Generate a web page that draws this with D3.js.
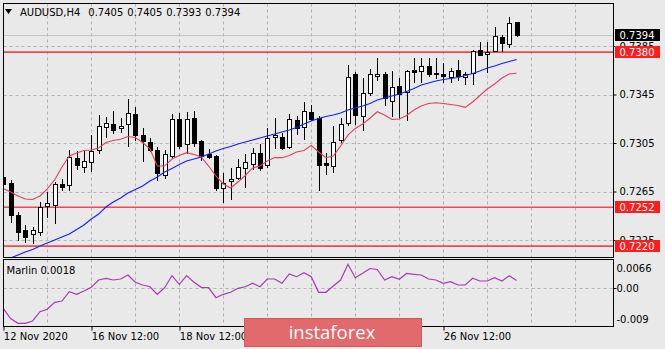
<!DOCTYPE html>
<html>
<head>
<meta charset="utf-8">
<script src="https://cdn.jsdelivr.net/npm/d3@7/dist/d3.min.js"></script>
<style>
  html, body { margin: 0; padding: 0; background: #e9e9e9; }
  svg { display: block; font-family: "DejaVu Sans", Verdana, sans-serif; }
</style>
</head>
<body>
<svg id="chart" width="665" height="349"></svg>
<script>
// ---- AUDUSD H4 quotes -------------------------------------------------
const symbolTitle = "AUDUSD,H4";
const lastBarText = ["0.7405", "0.7405", "0.7393", "0.7394"];

const opens = [
  0.72770, 0.72720, 0.72456, 0.72333, 0.72300, 0.72318, 0.72530, 0.72539, 0.72712, 0.72704,
  0.72929, 0.72850, 0.72896, 0.72992, 0.73184, 0.73204, 0.73176, 0.73204, 0.73289, 0.73116,
  0.73058, 0.72996, 0.72786, 0.72943, 0.73252, 0.73042, 0.73254, 0.73066, 0.72959, 0.72943,
  0.72676, 0.72739, 0.72764, 0.72841, 0.72877, 0.72965, 0.72869, 0.73097, 0.73099, 0.73017,
  0.73236, 0.73180, 0.73306, 0.73260, 0.72883, 0.72860, 0.73075, 0.73212, 0.73622, 0.73273,
  0.73460, 0.73603, 0.73623, 0.73395, 0.73516, 0.73467, 0.73648, 0.73640, 0.73685, 0.73629,
  0.73617, 0.73597, 0.73652, 0.73597, 0.73625, 0.73817, 0.73782, 0.73809, 0.73927, 0.73867,
  0.74050
];
const highs = [
  0.72827, 0.72745, 0.72483, 0.72374, 0.72360, 0.72566, 0.72648, 0.72731, 0.72751, 0.72992,
  0.72984, 0.72984, 0.73116, 0.73281, 0.73267, 0.73314, 0.73254, 0.73410, 0.73349, 0.73171,
  0.73095, 0.73021, 0.72992, 0.73293, 0.73295, 0.73303, 0.73316, 0.73075, 0.72998, 0.72951,
  0.72800, 0.72841, 0.72916, 0.72959, 0.73006, 0.73042, 0.73171, 0.73254, 0.73130, 0.73289,
  0.73273, 0.73391, 0.73363, 0.73273, 0.72965, 0.73190, 0.73260, 0.73693, 0.73638, 0.73584,
  0.73658, 0.73749, 0.73638, 0.73644, 0.73584, 0.73652, 0.73749, 0.73749, 0.73749, 0.73749,
  0.73707, 0.73666, 0.73735, 0.73638, 0.73817, 0.73881, 0.73885, 0.74009, 0.73941, 0.74092,
  0.74050
];
const lows = [
  0.72695, 0.72399, 0.72250, 0.72234, 0.72223, 0.72291, 0.72442, 0.72393, 0.72662, 0.72662,
  0.72833, 0.72813, 0.72819, 0.72965, 0.73102, 0.73135, 0.73141, 0.73025, 0.73075, 0.72902,
  0.72987, 0.72745, 0.72761, 0.72932, 0.73011, 0.72970, 0.73025, 0.72910, 0.72924, 0.72662,
  0.72561, 0.72586, 0.72751, 0.72690, 0.72833, 0.72827, 0.72852, 0.73009, 0.73001, 0.73006,
  0.73124, 0.73080, 0.73240, 0.72662, 0.72794, 0.72811, 0.73061, 0.73198, 0.73207, 0.73157,
  0.73446, 0.73567, 0.73363, 0.73269, 0.73256, 0.73240, 0.73556, 0.73556, 0.73603, 0.73584,
  0.73556, 0.73556, 0.73570, 0.73537, 0.73537, 0.73772, 0.73638, 0.73805, 0.73809, 0.73844,
  0.73930
];
const closes = [
  0.72712, 0.72456, 0.72318, 0.72277, 0.72333, 0.72525, 0.72553, 0.72709, 0.72690, 0.72937,
  0.72869, 0.72904, 0.72987, 0.73190, 0.73212, 0.73157, 0.73190, 0.73300, 0.73120, 0.73066,
  0.72992, 0.72803, 0.72959, 0.73245, 0.73025, 0.73245, 0.73052, 0.72943, 0.72932, 0.72676,
  0.72718, 0.72753, 0.72850, 0.72896, 0.72970, 0.72841, 0.73089, 0.73116, 0.73006, 0.73245,
  0.73175, 0.73311, 0.73245, 0.72869, 0.72869, 0.73061, 0.73207, 0.73598, 0.73281, 0.73460,
  0.73619, 0.73619, 0.73419, 0.73512, 0.73454, 0.73646, 0.73636, 0.73688, 0.73617, 0.73617,
  0.73603, 0.73644, 0.73605, 0.73617, 0.73811, 0.73776, 0.73803, 0.73932, 0.73877, 0.74040,
  0.73940
];

// slow moving average (blue)
const slowMA = [
  0.72069, 0.72102, 0.72126, 0.72151, 0.72172, 0.72201, 0.72225, 0.72250, 0.72275, 0.72300,
  0.72337, 0.72374, 0.72423, 0.72464, 0.72522, 0.72563, 0.72596, 0.72638, 0.72667, 0.72695,
  0.72737, 0.72770, 0.72811, 0.72840, 0.72873, 0.72902, 0.72918, 0.72935, 0.72959, 0.72984,
  0.73005, 0.73021, 0.73042, 0.73058, 0.73075, 0.73091, 0.73108, 0.73124, 0.73141, 0.73157,
  0.73178, 0.73207, 0.73231, 0.73252, 0.73269, 0.73281, 0.73297, 0.73322, 0.73339, 0.73355,
  0.73376, 0.73405, 0.73421, 0.73438, 0.73454, 0.73475, 0.73499, 0.73528, 0.73545, 0.73561,
  0.73574, 0.73582, 0.73590, 0.73607, 0.73623, 0.73644, 0.73669, 0.73685, 0.73706, 0.73722,
  0.73739
];
// fast moving average (crimson)
const fastMA = [
  0.72675, 0.72646, 0.72613, 0.72588, 0.72584, 0.72613, 0.72671, 0.72745, 0.72852, 0.72943,
  0.72968, 0.72988, 0.72992, 0.73009, 0.73054, 0.73071, 0.73081, 0.73104, 0.73095, 0.73054,
  0.73001, 0.72860, 0.72860, 0.72918, 0.72947, 0.72970, 0.72955, 0.72935, 0.72860, 0.72778,
  0.72712, 0.72679, 0.72728, 0.72782, 0.72844, 0.72860, 0.72902, 0.72930, 0.72929, 0.72947,
  0.72976, 0.72988, 0.73029, 0.72976, 0.72929, 0.72943, 0.73025, 0.73116, 0.73170, 0.73207,
  0.73254, 0.73308, 0.73281, 0.73244, 0.73248, 0.73277, 0.73322, 0.73355, 0.73376, 0.73382,
  0.73376, 0.73367, 0.73359, 0.73344, 0.73388, 0.73442, 0.73495, 0.73537, 0.73586, 0.73619,
  0.73625
];
// Marlin oscillator (sub-window)
const marlin = [
  -0.00469, -0.00702, -0.00814, -0.00814, -0.00760, -0.00544, -0.00488, -0.00325, -0.00295, -0.00078,
  -0.00139, -0.00062, 0.00024, 0.00194, 0.00234, 0.00194, 0.00218, 0.00311, 0.00141, 0.00078,
  0.00038, -0.00139, 0.00015, 0.00295, 0.00094, 0.00295, 0.00141, 0.00024, 0.00015, -0.00218,
  -0.00139, -0.00092, 0.00000, 0.00038, 0.00118, 0.00038, 0.00218, 0.00218, 0.00118, 0.00334,
  0.00271, 0.00364, 0.00271, -0.00092, -0.00092, 0.00055, 0.00194, 0.00560, 0.00248, 0.00350,
  0.00462, 0.00439, 0.00194, 0.00271, 0.00211, 0.00346, 0.00327, 0.00311, 0.00218, 0.00194,
  0.00118, 0.00155, 0.00078, 0.00078, 0.00234, 0.00171, 0.00171, 0.00248, 0.00171, 0.00295,
  0.00180
];
const marlinNow = "0.0018";

// axis ticks and levels
const priceTicks = [0.7225, 0.7265, 0.7305, 0.7345, 0.7385];
const levelLines = [0.7380, 0.7252, 0.7220];
const bidPrice = 0.7394;
const marlinTicks = [0.0066, 0.00, -0.009];
const marlinTickText = ["0.0066", "0.00", "-0.009"];
const timeTickBars = [0, 12, 24, 60];
const timeTickText = ["12 Nov 2020", "16 Nov 12:00", "18 Nov 12:00", "26 Nov 12:00"];
const gridBars = d3.range(6, 84, 6);

// ---- layout ------------------------------------------------------------
const W = 665, H = 349;
const L = 3.5, R = 613.5;
const mainTop = 3.5, mainBottom = 257.5;
const subTop = 259.5, subBottom = 326.5;
const bg = "#e9e9e9";

const svg = d3.select("#chart");
svg.append("rect").attr("width", W).attr("height", H).attr("fill", bg);

const nBars = opens.length;
const x = d3.scaleLinear().domain([0, nBars - 1]).range([3.3, 516.6]);
const y = d3.scaleLinear().domain([0.7225, 0.7385]).range([240, 46]);
const ySub = d3.scaleLinear().domain([-0.009, 0.0066]).range([327, 260]);
const px = v => Math.round(v) + 0.5;

const defs = svg.append("defs");
defs.append("clipPath").attr("id", "clipMain")
  .append("rect").attr("x", L + 0.5).attr("y", mainTop + 0.5)
  .attr("width", R - L - 1).attr("height", mainBottom - mainTop - 1);
defs.append("clipPath").attr("id", "clipSub")
  .append("rect").attr("x", L + 0.5).attr("y", subTop + 0.5)
  .attr("width", R - L - 1).attr("height", subBottom - subTop - 1);

const gridColor = "#b3b3b3";

// ---- main window -------------------------------------------------------
const main = svg.append("g").attr("clip-path", "url(#clipMain)");

// vertical grid
main.selectAll("line.vgrid").data(gridBars).join("line")
  .attr("x1", d => px(x(d))).attr("x2", d => px(x(d)))
  .attr("y1", mainTop).attr("y2", mainBottom)
  .attr("stroke", gridColor).attr("stroke-dasharray", "3,3");
// horizontal grid
main.selectAll("line.hgrid").data(priceTicks).join("line")
  .attr("x1", L).attr("x2", R)
  .attr("y1", d => px(y(d))).attr("y2", d => px(y(d)))
  .attr("stroke", gridColor).attr("stroke-dasharray", "3,3");

// bid line
main.append("line")
  .attr("x1", L).attr("x2", R)
  .attr("y1", px(y(bidPrice))).attr("y2", px(y(bidPrice)))
  .attr("stroke", "#c4c4c4");

// horizontal levels
main.selectAll("line.level").data(levelLines).join("line")
  .attr("x1", L).attr("x2", R)
  .attr("y1", d => y(d)).attr("y2", d => y(d))
  .attr("stroke", "#ef4a50").attr("stroke-width", 1.7);

// candles
const bars = d3.range(nBars);
const cg = main.append("g");
cg.selectAll("line.wick").data(bars).join("line")
  .attr("x1", i => Math.round(x(i)) + 0.5).attr("x2", i => Math.round(x(i)) + 0.5)
  .attr("y1", i => Math.round(y(highs[i]))).attr("y2", i => Math.round(y(lows[i])) + 1)
  .attr("stroke", "#000");
cg.selectAll("rect.body").data(bars).join("rect")
  .attr("x", i => Math.round(x(i)) - 1.5)
  .attr("width", 4)
  .attr("y", i => Math.round(y(Math.max(opens[i], closes[i]))) + 0.5)
  .attr("height", i => Math.max(1, Math.round(y(Math.min(opens[i], closes[i]))) - Math.round(y(Math.max(opens[i], closes[i])))))
  .attr("fill", i => closes[i] >= opens[i] ? "#ffffff" : "#000000")
  .attr("stroke", "#000");

// moving averages
const maLine = arr => d3.line().x((d, i) => x(i)).y(d => y(d))(arr);
main.append("path").attr("d", maLine(fastMA))
  .attr("fill", "none").attr("stroke", "#e0405e").attr("stroke-width", 1.1);
main.append("path").attr("d", maLine(slowMA))
  .attr("fill", "none").attr("stroke", "#1a1aff").attr("stroke-width", 1.1);

// header
svg.append("path").attr("d", "M5,9 L12,9 L8.5,14 Z").attr("fill", "#000");
const head = svg.append("text").attr("y", 16).attr("font-size", 10).attr("fill", "#000");
head.append("tspan").attr("x", 20).text(symbolTitle);
lastBarText.forEach((t, k) => head.append("tspan").attr("x", 88.3 + k * 39).text(t));

// ---- sub window (Marlin) -----------------------------------------------
const sub = svg.append("g").attr("clip-path", "url(#clipSub)");
sub.selectAll("line.vgrid").data(gridBars).join("line")
  .attr("x1", d => px(x(d))).attr("x2", d => px(x(d)))
  .attr("y1", subTop).attr("y2", subBottom)
  .attr("stroke", gridColor).attr("stroke-dasharray", "3,3");
sub.append("line")
  .attr("x1", L).attr("x2", R)
  .attr("y1", px(ySub(0))).attr("y2", px(ySub(0)))
  .attr("stroke", gridColor).attr("stroke-dasharray", "3,3");
sub.append("path")
  .attr("d", d3.line().x((d, i) => x(i)).y(d => ySub(d))(marlin))
  .attr("fill", "none").attr("stroke", "#a53db3").attr("stroke-width", 1.2);

svg.append("text").attr("x", 6.5).attr("y", 273.5).attr("font-size", 10).attr("fill", "#000")
  .text("Marlin " + marlinNow);

// ---- frames ------------------------------------------------------------
svg.append("rect").attr("x", L).attr("y", mainTop).attr("width", R - L).attr("height", mainBottom - mainTop)
  .attr("fill", "none").attr("stroke", "#000");
svg.append("rect").attr("x", L).attr("y", subTop).attr("width", R - L).attr("height", subBottom - subTop)
  .attr("fill", "none").attr("stroke", "#000");

// ---- price axis --------------------------------------------------------
const yAxis = svg.append("g").attr("transform", `translate(${R},0)`)
  .call(d3.axisRight(y).tickValues(priceTicks).tickFormat(d3.format(".4f")).tickSize(3).tickPadding(3));
yAxis.select(".domain").remove();
yAxis.selectAll("text").attr("font-size", 10).attr("fill", "#000").attr("font-family", "DejaVu Sans");
yAxis.selectAll("line").attr("stroke", "#000");

// price markers
function marker(val, fill) {
  const cy = y(val);
  svg.append("rect").attr("x", 615).attr("y", Math.round(cy) - 6).attr("width", 45).attr("height", 12).attr("fill", fill);
  svg.append("text").attr("x", 619.5).attr("y", cy).attr("dy", "0.35em")
    .attr("font-size", 10).attr("fill", "#fff").text(d3.format(".4f")(val));
}
marker(bidPrice, "#000");
levelLines.forEach(v => marker(v, "#ff1c1c"));

// Marlin axis
const subAxis = svg.append("g");
subAxis.append("line").attr("x1", R).attr("x2", R + 3)
  .attr("y1", px(ySub(0))).attr("y2", px(ySub(0))).attr("stroke", "#000");
const subOffset = [8.5, 0, -8];
subAxis.selectAll("text").data(marlinTicks).join("text")
  .attr("x", 616.5).attr("y", (d, k) => ySub(d) + subOffset[k]).attr("dy", "0.35em")
  .attr("font-size", 10).attr("fill", "#000")
  .text((d, k) => marlinTickText[k]);

// ---- time axis ---------------------------------------------------------
const xAxis = svg.append("g").attr("transform", `translate(0,${subBottom})`)
  .call(d3.axisBottom(x).tickValues(timeTickBars).tickSize(4).tickFormat((d, k) => timeTickText[k]));
xAxis.select(".domain").remove();
xAxis.selectAll(".tick line").attr("stroke", "#000")
  .attr("transform", d => `translate(${Math.round(x(d)) + 0.5 - x(d)},0)`);
xAxis.selectAll(".tick text").attr("font-size", 10).attr("fill", "#000")
  .attr("font-family", "DejaVu Sans")
  .attr("text-anchor", "start").attr("x", 0).attr("y", 0).attr("dy", "13.8");

// ---- brand badge -------------------------------------------------------
svg.append("rect").attr("x", 244).attr("y", 318).attr("width", 178).attr("height", 29)
  .attr("fill", "#e2696c");
svg.append("rect").attr("x", 244.5).attr("y", 318.5).attr("width", 177).attr("height", 28)
  .attr("fill", "none").attr("stroke", "#cf5a5e");
svg.append("text").attr("x", 332).attr("y", 338.5).attr("text-anchor", "middle")
  .attr("font-family", "Open Sans, sans-serif").attr("font-size", 18.5).attr("fill", "#fff")
  .text("instaforex");
</script>
</body>
</html>
